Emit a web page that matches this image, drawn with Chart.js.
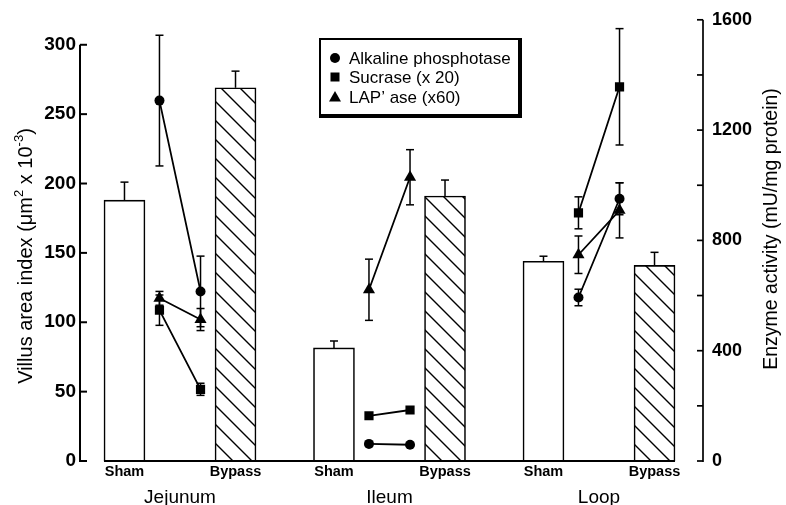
<!DOCTYPE html>
<html><head><meta charset="utf-8">
<script src="https://cdn.jsdelivr.net/npm/chart.js@4/dist/chart.umd.min.js"></script>
<style>html,body{margin:0;padding:0;background:#fff;}#wrap{width:786px;height:505px;}</style>
</head><body><div id="wrap"><canvas id="c" width="786" height="505"></canvas></div>
<script>
// ---- data ----
const groups = ['Jejunum', 'Ileum', 'Loop'];
const conditions = ['Sham', 'Bypass'];
const villusSham = [188, 81.5, 144];
const villusShamErr = [13, 5, 3.6];
const villusBypass = [269, 191, 141];
const villusBypassErr = [12, 11.5, 9.4];
const alkSham = [1307, 62, 593];
const alkShamErr = [237, 0, 30];
const alkBypass = [615, 59, 951];
const alkBypassErr = [128, 0, 58];
const sucSham = [547, 164, 900];
const sucShamErr = [55, 0, 58];
const sucBypass = [260, 185, 1357];
const sucBypassErr = [22, 0, 211];
const lapSham = [590, 621, 748];
const lapShamErr = [25, 111, 68];
const lapBypass = [513, 1029, 909];
const lapBypassErr = [40, 100, 100];
const leftTicks = [0, 50, 100, 150, 200, 250, 300];
const rightTicks = [0, 400, 800, 1200, 1600];
const rightMinorTicks = [200, 600, 1000, 1400];
const enzymeNames = ['Alkaline phosphotase', 'Sucrase (x 20)', 'LAP\u2019 ase (x60)'];

// ---- layout / style ----
const FONT = "'Liberation Sans', Arial, Helvetica, sans-serif";
const BAR_OFF = 0.265, PT_OFF = 0.098, BAR_W = 41;
const canvas = document.getElementById('c');
const ctx0 = canvas.getContext('2d');

function makeHatch() {
  const s = 19;
  const c = document.createElement('canvas');
  c.width = s; c.height = s;
  const g = c.getContext('2d');
  g.fillStyle = '#fff'; g.fillRect(0, 0, s, s);
  g.strokeStyle = '#000'; g.lineWidth = 1.4;
  g.beginPath();
  for (const k of [-s, 0, s]) { g.moveTo(-2, -2 + k); g.lineTo(s + 2, s + 2 + k); }
  g.stroke();
  return ctx0.createPattern(c, 'repeat');
}
const hatch = makeHatch();

const barData = [], barColors = [], barErrs = [];
groups.forEach((g, i) => {
  barData.push({x: i - BAR_OFF, y: villusSham[i]}); barColors.push('#ffffff'); barErrs.push(villusShamErr[i]);
  barData.push({x: i + BAR_OFF, y: villusBypass[i]}); barColors.push(hatch); barErrs.push(villusBypassErr[i]);
});

function lineData(sham, bypass) {
  const d = [];
  groups.forEach((g, i) => {
    d.push({x: i - PT_OFF, y: sham[i]});
    d.push({x: i + PT_OFF, y: bypass[i]});
    if (i < groups.length - 1) d.push({x: i + 0.5, y: null});
  });
  return d;
}
function errData(sham, bypass) {
  const d = [];
  groups.forEach((g, i) => { d.push(sham[i]); d.push(bypass[i]); if (i < groups.length - 1) d.push(0); });
  return d;
}

function lineDs(label, sham, bypass, es, eb, style, r) {
  return {
    type: 'line', label, data: lineData(sham, bypass), errors: errData(es, eb),
    xAxisID: 'x', yAxisID: 'y2', borderColor: '#000', borderWidth: 1.8, tension: 0,
    spanGaps: false, pointStyle: style, pointRadius: r, pointHoverRadius: r,
    pointBackgroundColor: '#000', pointBorderWidth: 0, order: 0
  };
}

const deco = {
  id: 'deco',
  afterDatasetsDraw(chart) {
    const ctx = chart.ctx, xs = chart.scales.x, ys = chart.scales.y, y2 = chart.scales.y2;
    ctx.save();
    ctx.strokeStyle = '#000'; ctx.lineWidth = 1.5;
    const seg = (a, b, c, d) => { ctx.beginPath(); ctx.moveTo(a, b); ctx.lineTo(c, d); ctx.stroke(); };
    // bar error bars (upward only)
    const bds = chart.data.datasets[0];
    bds.data.forEach((d, i) => {
      const x = xs.getPixelForValue(d.x);
      const yt = ys.getPixelForValue(d.y), ye = ys.getPixelForValue(d.y + bds.errors[i]);
      seg(x, yt, x, ye); seg(x - 4, ye, x + 4, ye);
    });
    // enzyme error bars
    chart.data.datasets.slice(1).forEach(ds => {
      ds.data.forEach((d, i) => {
        const e = ds.errors[i];
        if (d.y == null || !e) return;
        const x = xs.getPixelForValue(d.x);
        const a = y2.getPixelForValue(d.y - e), b = y2.getPixelForValue(d.y + e);
        seg(x, a, x, b); seg(x - 4, a, x + 4, a); seg(x - 4, b, x + 4, b);
      });
    });
    ctx.restore();
  },
  afterDraw(chart) {
    const ctx = chart.ctx, xs = chart.scales.x, ys = chart.scales.y, y2 = chart.scales.y2;
    const ca = chart.chartArea;
    ctx.save();
    ctx.strokeStyle = '#000'; ctx.fillStyle = '#000';
    const seg = (a, b, c, d) => { ctx.beginPath(); ctx.moveTo(a, b); ctx.lineTo(c, d); ctx.stroke(); };
    // left axis
    ctx.lineWidth = 2;
    const lx = ca.left;
    seg(lx, ys.getPixelForValue(leftTicks[leftTicks.length - 1]), lx, ys.getPixelForValue(0) + 1);
    leftTicks.forEach(v => { const y = ys.getPixelForValue(v); seg(lx, y, lx + 7, y); });
    // right axis
    ctx.lineWidth = 1.7;
    const rx = ca.right;
    seg(rx, y2.getPixelForValue(rightTicks[rightTicks.length - 1]), rx, y2.getPixelForValue(0) + 1);
    rightTicks.concat(rightMinorTicks).forEach(v => { const y = y2.getPixelForValue(v); seg(rx - 6, y, rx, y); });
    // baseline
    ctx.lineWidth = 2;
    const by = ys.getPixelForValue(0);
    seg(xs.getPixelForValue(-BAR_OFF) - BAR_W / 2, by, xs.getPixelForValue(groups.length - 1 + BAR_OFF) + BAR_W / 2, by);
    // legend box
    ctx.fillRect(319, 38, 203, 2);
    ctx.fillRect(319, 38, 2, 80);
    ctx.fillRect(518, 38, 4, 80);
    ctx.fillRect(319, 114, 203, 4);
    const mx = 335, rows = [58, 77, 97];
    ctx.beginPath(); ctx.arc(mx, rows[0], 5, 0, Math.PI * 2); ctx.fill();
    ctx.fillRect(mx - 4.5, rows[1] - 4.5, 9, 9);
    ctx.beginPath(); ctx.moveTo(mx, rows[2] - 6); ctx.lineTo(mx + 6, rows[2] + 4.5); ctx.lineTo(mx - 6, rows[2] + 4.5); ctx.closePath(); ctx.fill();
    ctx.font = '17px ' + FONT; ctx.textBaseline = 'middle'; ctx.textAlign = 'left';
    enzymeNames.forEach((t, i) => ctx.fillText(t, 349, rows[i] + 1));
    // left title with superscripts
    ctx.save();
    ctx.translate(32, 256); ctx.rotate(-Math.PI / 2);
    ctx.textBaseline = 'alphabetic'; ctx.textAlign = 'left';
    const big = '20px ' + FONT, small = '13px ' + FONT;
    const parts = [['Villus area index (\u03bcm', big, 0], ['2', small, -9], [' x 10', big, 0], ['-3', small, -9], [')', big, 0]];
    let w = 0;
    parts.forEach(p => { ctx.font = p[1]; w += ctx.measureText(p[0]).width; });
    let px = -w / 2;
    parts.forEach(p => { ctx.font = p[1]; ctx.fillText(p[0], px, p[2]); px += ctx.measureText(p[0]).width; });
    ctx.restore();
    // right title
    ctx.save();
    ctx.translate(777, 229); ctx.rotate(-Math.PI / 2);
    ctx.font = '19.5px ' + FONT; ctx.textAlign = 'center'; ctx.textBaseline = 'alphabetic';
    ctx.fillText('Enzyme activity (mU/mg protein)', 0, 0);
    ctx.restore();
    ctx.restore();
  }
};

const XMIN = -0.4773, XMAX = 2.4964;
new Chart(canvas, {
  data: {
    datasets: [
      {type: 'bar', label: 'Villus area index', data: barData, errors: barErrs, xAxisID: 'x', yAxisID: 'y',
       backgroundColor: barColors, borderColor: '#000', borderWidth: 1.6, borderSkipped: 'start',
       barThickness: BAR_W, order: 1},
      lineDs(enzymeNames[0], alkSham, alkBypass, alkShamErr, alkBypassErr, 'circle', 5),
      lineDs(enzymeNames[1], sucSham, sucBypass, sucShamErr, sucBypassErr, 'rect', 6.5),
      lineDs(enzymeNames[2], lapSham, lapBypass, lapShamErr, lapBypassErr, 'triangle', 7)
    ]
  },
  options: {
    responsive: false, animation: false, devicePixelRatio: 1,
    layout: {padding: {top: 19, left: 0, right: 0, bottom: 0}},
    plugins: {legend: {display: false}, tooltip: {enabled: false}},
    scales: {
      x: {type: 'linear', min: XMIN, max: XMAX, position: 'bottom', weight: 0, offset: false,
          grid: {display: false, drawTicks: false, offset: false}, border: {display: false},
          afterFit(s) { s.height = 22; },
          afterBuildTicks(s) { const t = []; groups.forEach((g, i) => { t.push({value: i - BAR_OFF}); t.push({value: i + BAR_OFF}); }); s.ticks = t; },
          ticks: {autoSkip: false, maxRotation: 0, padding: 2, color: '#000',
                  font: {family: FONT, size: 14.5, weight: 'bold'}, callback: (v, i) => conditions[i % 2]}},
      x2: {type: 'linear', min: XMIN, max: XMAX, position: 'bottom', weight: 1, offset: false,
          grid: {display: false, drawTicks: false, offset: false}, border: {display: false},
          afterFit(s) { s.height = 22; },
          afterBuildTicks(s) { s.ticks = groups.map((g, i) => ({value: i})); },
          ticks: {autoSkip: false, maxRotation: 0, padding: 3, color: '#000',
                  font: {family: FONT, size: 19}, callback: (v, i) => groups[i]}},
      y: {type: 'linear', position: 'left', min: 0, max: 318,
          grid: {display: false, drawTicks: false}, border: {display: false},
          afterFit(s) { s.width = 80; },
          afterBuildTicks(s) { s.ticks = leftTicks.map(v => ({value: v})); },
          ticks: {padding: 4, color: '#000', font: {family: FONT, size: 19, weight: 'bold'}, callback: v => String(v)}},
      y2: {type: 'linear', position: 'right', min: 0, max: 1600,
          grid: {display: false, drawTicks: false}, border: {display: false},
          afterFit(s) { s.width = 83; },
          afterBuildTicks(s) { s.ticks = rightTicks.map(v => ({value: v})); },
          ticks: {padding: 9, color: '#000', font: {family: FONT, size: 18, weight: 'bold'}, callback: v => String(v)}}
    }
  },
  plugins: [deco]
});
</script>
</body></html>
